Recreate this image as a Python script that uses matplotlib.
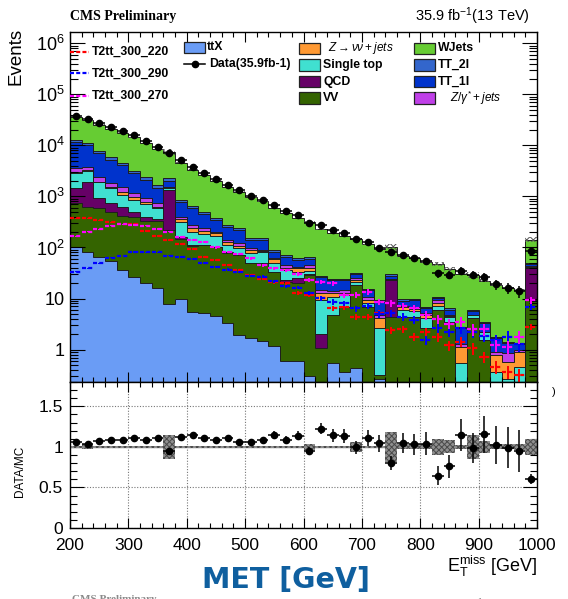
import numpy as np
import matplotlib
matplotlib.use('Agg')
import matplotlib.pyplot as plt
from matplotlib.patches import Rectangle
from matplotlib.lines import Line2D
from matplotlib.ticker import FixedLocator, MultipleLocator, FuncFormatter, LogLocator, NullFormatter

plt.rcParams['font.family'] = ['Liberation Sans', 'DejaVu Sans']
plt.rcParams['mathtext.fontset'] = 'custom'
plt.rcParams['mathtext.rm'] = 'Liberation Sans'
plt.rcParams['mathtext.it'] = 'Liberation Sans:italic'
plt.rcParams['mathtext.bf'] = 'Liberation Sans:bold'
plt.rcParams['hatch.linewidth'] = 0.7

# ---------------- data (MET bins of 20 GeV, 200-1000, last bin incl. overflow) ----------------
met_edges = np.arange(200, 1001, 20)

data = [37800, 32600, 27200, 23000, 19200, 15800, 12100, 9220, 7130, 5130,
        3830, 2920, 2230, 1700, 1316, 1014, 866, 676, 516, 431,
        300, 278, 219, 189, 146, 129, 99, 80, 71, 63,
        54, 31, 29, 35, 29, 26, 19, 16, 14, 86]

ttx = [103, 82, 66, 55, 36, 26, 20, 16, 7.7, 9.6,
       5.5, 5.3, 4.5, 3.3, 1.9, 1.7, 1.5, 1.2, 0.6, 0.6,
       0.3, 0, 0.54, 0.37, 0.44, 0, 0.27, 0, 0, 0,
       0, 0, 0, 0, 0, 0, 0, 0, 0, 0]
vv = [637, 536, 516, 445, 376, 374, 309, 313, 211, 136,
      103, 106, 97, 75, 69, 48, 48, 32, 20.7, 19.2,
      28.5, 1.06, 4.2, 6.5, 18, 6.9, 0.05, 4.4, 4.4, 4.4,
      2.6, 5.95, 3.5, 0.05, 4.1, 1.54, 0.1, 0.1, 0.1, 9.35]
qcd = [695, 1312, 332, 230, 214, 100, 70, 31, 1109, 16,
       3, 2, 1.5, 4, 0.5, 0.3, 0.3, 0.2, 1.7, 5,
       1.2, 1.0, 0, 0, 0, 0, 0, 18.6, 0, 0,
       0, 0, 0, 0, 0, 0, 0, 0, 0, 29.7]
single_top = [1465, 1240, 966, 723, 434, 347, 298, 222, 125, 152,
              92, 67, 64, 29, 25, 27, 32, 16, 13, 8.2,
              4.5, 7.3, 6, 4.8, 2.4, 1.15, 2.3, 0.3, 1.55, 1.4,
              1.5, 1.15, 0.9, 0.5, 0.65, 0.7, 0.27, 0.17, 0.36, 1]
znunu = [130, 100, 50, 47, 170, 135, 87, 44, 47, 46,
         33, 29, 22, 18, 12, 12, 4, 9.5, 3, 6,
         4.5, 3.3, 2.2, 1.3, 1.9, 1.3, 1.5, 0.3, 0.75, 0.35,
         0.65, 0.95, 0.1, 0.56, 0, 0, 0.41, 0.31, 0.45, 2]
zgamma = [500, 530, 420, 345, 270, 163, 130, 104, 42, 39,
          38, 27, 14, 11, 12, 7, 3, 2.5, 6, 3,
          5.6, 2.1, 1.2, 1.7, 2.1, 1.45, 0.65, 0.5, 0.4, 0.55,
          0.35, 1.3, 0.25, 0.19, 0, 0, 0.13, 0.27, 0.07, 1.3]
tt_1l = [8170, 6290, 4590, 3285, 2540, 1675, 1171, 705, 478, 374,
         316, 214, 141, 111, 99, 44, 51, 21, 20, 14.7,
         15.4, 11.3, 8.8, 8.3, 5, 3.9, 3.9, 3.8, 1.95, 2.5,
         1.55, 0.75, 1.2, 1.32, 0.95, 1.06, 0.78, 0.5, 0.28, 3.4]
tt_2l = [1300, 1110, 860, 660, 510, 350, 270, 230, 230, 74,
         56, 43, 32, 23, 17, 11, 11, 7, 6, 4.3,
         4, 1.6, 1, 1.4, 2.2, 0.4, 0.7, 2.1, 0.55, 0.6,
         0.25, 0.4, 0.45, 0.15, 0.25, 0.12, 0.1, 0.08, 0.07, 2.2]
wjets = [22500, 20400, 17700, 15410, 13150, 11130, 8785, 6665, 5220, 3733,
         2694, 2147, 1674, 1266, 1004, 804, 646, 500, 404, 317,
         252, 199, 168, 142, 115, 101, 85.6, 70, 58.4, 51.2,
         45.1, 37.5, 31.6, 27.7, 23.35, 19.1, 16.7, 14.7, 13.4, 94]

mc_relunc = [0.01, 0.03, 0.01, 0.01, 0.01, 0.01, 0.01, 0.01, 0.145, 0.01,
             0.01, 0.01, 0.01, 0.01, 0.01, 0.01, 0.01, 0.01, 0.01, 0.01,
             0.04, 0.01, 0.01, 0.01, 0.06, 0.015, 0.015, 0.185, 0.03, 0.03,
             0.03, 0.10, 0.08, 0.02, 0.15, 0.07, 0.03, 0.03, 0.04, 0.10]

t2tt_300_220 = [371, 371, 344, 314, 287, 287, 209, 169, 140, 117,
                92, 66, 57, 45, 36, 29, 24, 21, 20, 13,
                11.7, 10.1, 6.4, 6.7, 4.4, 4.4, 5.1, 2.4, 2.5, 1.8,
                2.2, 1.8, 1.23, 1.43, 1.06, 0.73, 0.46, 0.37, 0.32, 2.8]
t2tt_300_290 = [33.5, 39, 49, 63, 68, 82, 80, 80, 69, 66,
                59, 50, 42, 37, 33.5, 27.5, 26.7, 22, 17.6, 16.4,
                13, 10.1, 8.65, 8.05, 6.4, 7.1, 5.0, 5.1, 4.4, 3.8,
                1.54, 2.6, 2.24, 2.6, 2.24, 1.85, 1.54, 1.8, 1.29, 6.9]
t2tt_300_270 = [167, 203, 229, 266, 287, 274, 266, 229, 203, 162,
                140, 126, 100, 82, 74, 61, 45, 39, 36, 30,
                23, 21, 20, 11.7, 11.7, 13.6, 8.6, 8.0, 7.1, 6.4,
                4.75, 3.9, 3.2, 3.5, 2.5, 2.5, 1.23, 1.14, 1.8, 9.35]
sig_relerr = [0.02, 0.02, 0.02, 0.02, 0.02, 0.03, 0.03, 0.03, 0.03, 0.04,
              0.04, 0.04, 0.05, 0.05, 0.05, 0.06, 0.06, 0.07, 0.07, 0.08,
              0.10, 0.10, 0.12, 0.12, 0.13, 0.14, 0.15, 0.16, 0.17, 0.18,
              0.20, 0.20, 0.22, 0.22, 0.25, 0.25, 0.28, 0.28, 0.30, 0.15]

bkg_names = ['ttX', 'VV', 'QCD', 'Single top', 'Znunu', 'Zgamma', 'TT_1l', 'TT_2l', 'WJets']
bkg_values = [ttx, vv, qcd, single_top, znunu, zgamma, tt_1l, tt_2l, wjets]
bkg_colors = ['#6a9cf5', '#346400', '#660066', '#40e0d0', '#ff9933',
              '#c040e8', '#0033cc', '#3366cc', '#66cc33']

# ---------------- figure ----------------
W, H = 568, 599
fig = plt.figure(figsize=(W / 100, H / 100), dpi=100)
L, R = 70, 537
T_main, B_main, B_rat = 32, 382, 528
ax = fig.add_axes([L / W, 1 - B_main / H, (R - L) / W, (B_main - T_main) / H])
rax = fig.add_axes([L / W, 1 - B_rat / H, (R - L) / W, (B_rat - B_main) / H])

edges = met_edges
centers = 0.5 * (edges[:-1] + edges[1:])
half = 0.5 * np.diff(edges)
data_a = np.asarray(data, float)

# stacked backgrounds
bottom = np.full(len(centers), 1e-3)
tops = []
for vals, col in zip(bkg_values, bkg_colors):
    top = bottom + np.asarray(vals, float)
    ax.stairs(top, edges, baseline=bottom, fill=True, facecolor=col, edgecolor='none', lw=0, zorder=1)
    tops.append(top)
    bottom = top
for top in tops:
    ax.stairs(top, edges, baseline=None, color='#1e1e1e', lw=0.7, zorder=1.5)
total = bottom
unc = np.asarray(mc_relunc)
ax.stairs(total * (1 + unc), edges, baseline=total * (1 - unc), fill=True,
          facecolor='none', edgecolor='#555555', hatch='xxxxx', lw=0, zorder=2)

# signals
for vals, col in [(t2tt_300_220, '#ff0000'), (t2tt_300_290, '#0000ff'), (t2tt_300_270, '#ff00ff')]:
    v = np.asarray(vals, float)
    rel = np.asarray(sig_relerr)
    ax.hlines(v, edges[:-1], edges[1:], colors=col, linestyles=(0, (1.8, 1.0)), lw=1.6, zorder=3)
    ax.vlines(centers, v * (1 - rel), v * (1 + rel), colors=col, lw=1.4, zorder=3)

# data
ax.errorbar(centers, data_a, xerr=half, yerr=np.sqrt(data_a), fmt='o', ms=4.5,
            color='black', lw=1.1, capsize=0, zorder=5)

ax.set_yscale('log')
ax.set_xlim(200, 1000)
ax.set_ylim(0.232, 1.66e6)
ax.yaxis.set_major_locator(FixedLocator([1, 10, 1e2, 1e3, 1e4, 1e5, 1e6]))
ax.yaxis.set_minor_locator(LogLocator(base=10, subs=np.arange(2, 10), numticks=100))
ax.yaxis.set_minor_formatter(NullFormatter())


def yfmt(v, p):
    if abs(v - 1) < 1e-9:
        return '1'
    if abs(v - 10) < 1e-9:
        return '10'
    return r'$\mathregular{10^{%d}}$' % int(round(np.log10(v)))


ax.yaxis.set_major_formatter(FuncFormatter(yfmt))
ax.xaxis.set_major_locator(MultipleLocator(100))
ax.xaxis.set_minor_locator(MultipleLocator(20))
ax.tick_params(which='both', direction='in', top=True, right=True, labelbottom=False, width=0.8)
ax.tick_params(axis='y', which='major', length=11, labelsize=13, pad=4)
ax.tick_params(axis='y', which='minor', length=6)
ax.tick_params(axis='x', which='major', length=7)
ax.tick_params(axis='x', which='minor', length=3.5)
for s in ax.spines.values():
    s.set_linewidth(1.0)

# ratio
mc = total
ratio = data_a / mc
ratio_err = np.sqrt(data_a) / mc
rax.stairs(1 + unc, edges, baseline=1 - unc, fill=True, facecolor='#8f8f8f',
           edgecolor='#4a4a4a', hatch='xxxxxx', lw=0, zorder=2)
rax.axhline(1, color='#888888', lw=1.0, zorder=1.5)
rax.errorbar(centers, ratio, xerr=half, yerr=ratio_err, fmt='o', ms=4.5,
             color='black', lw=1.1, capsize=0, zorder=5)
rax.set_xlim(200, 1000)
rax.set_ylim(0, 1.8)
rax.yaxis.set_major_locator(FixedLocator([0, 0.5, 1, 1.5]))
rax.yaxis.set_major_formatter(FuncFormatter(lambda v, p: '%g' % v))
rax.yaxis.set_minor_locator(MultipleLocator(0.1))
rax.xaxis.set_major_locator(MultipleLocator(100))
rax.xaxis.set_minor_locator(MultipleLocator(20))
rax.grid(True, which='major', linestyle=(0, (1, 1.5)), color='#777777', lw=0.8, zorder=0)
rax.tick_params(which='both', direction='in', top=True, right=True, width=0.8)
rax.tick_params(axis='y', which='major', length=10, labelsize=12.5, pad=5)
rax.tick_params(axis='y', which='minor', length=5)
rax.tick_params(axis='x', which='major', length=7, labelsize=12.5, pad=7)
rax.tick_params(axis='x', which='minor', length=3.5)
for s in rax.spines.values():
    s.set_linewidth(1.0)
rax.set_axisbelow(True)

# ---------------- overlay for texts & legend (pixel coordinates) ----------------
ov = fig.add_axes([0, 0, 1, 1], zorder=10)
ov.set_xlim(0, W)
ov.set_ylim(H, 0)
ov.axis('off')
ov.patch.set_alpha(0)

ov.text(70, 16.5, 'CMS Preliminary', family='Liberation Serif', weight='bold', fontsize=10,
        ha='left', va='center')
ov.text(530, 16.5, r'35.9 fb$^{-1}$(13 TeV)', fontsize=10.5, ha='right', va='center')
ov.text(16, 56, 'Events', rotation=90, fontsize=13.5, ha='center', va='center')
ov.text(20, 471, 'DATA/MC', rotation=90, fontsize=8.5, ha='center', va='center')
ov.text(537, 572, r'$\mathregular{E_{T}^{miss}}$ [GeV]', fontsize=13, ha='right', va='baseline')
ov.text(286, 588, 'MET [GeV]', family='DejaVu Sans', weight='bold', fontsize=20.5,
        color='#0f5f9f', ha='center', va='baseline')
ov.text(72, 595.5, 'CMS Preliminary', family='Liberation Serif', weight='bold', fontsize=8,
        color='#8a8a8a', ha='left', va='top')
ov.text(530, 595.5, r'35.9 fb$^{-1}$(13 TeV)', fontsize=8.5, color='#8a8a8a', ha='right', va='top')
ov.text(554, 392, ')', fontsize=8, ha='center', va='center')

leg_fs = 8.8
# column 1 : signals
for y, col, lab in [(51.7, '#ff0000', 'T2tt_300_220'), (73.3, '#0000ff', 'T2tt_300_290'),
                    (95.7, '#ff00ff', 'T2tt_300_270')]:
    ov.add_line(Line2D([70, 89], [y, y], color=col, lw=1.6, linestyle=(0, (1.8, 1.0))))
    ov.text(91.7, y, lab, fontsize=leg_fs, weight='bold', ha='left', va='center')


def box(x, y, col):
    ov.add_patch(Rectangle((x, y - 5.8), 20.7, 11.6, facecolor=col, edgecolor='#222222', lw=0.9))


# column 2
box(184, 47.5, bkg_colors[0])
ov.text(207, 47.5, 'ttX', fontsize=leg_fs, weight='bold', ha='left', va='center')
ov.add_line(Line2D([184, 205], [63.5, 63.5], color='black', lw=1.1))
ov.plot([194.5], [63.5], 'o', color='black', ms=4.5)
ov.text(209, 63.5, 'Data(35.9fb-1)', fontsize=leg_fs, weight='bold', ha='left', va='center')

rows = [48.3, 65, 81.5, 98]
# column 3
box(299.3, rows[0], bkg_colors[4])
ov.text(361, rows[0], r'$Z \rightarrow \nu\nu + jets$', fontsize=8.5, ha='center', va='center')
box(299.3, rows[1], bkg_colors[3])
ov.text(323.3, rows[1], 'Single top', fontsize=leg_fs, weight='bold', ha='left', va='center')
box(299.3, rows[2], bkg_colors[2])
ov.text(323.3, rows[2], 'QCD', fontsize=leg_fs, weight='bold', ha='left', va='center')
box(299.3, rows[3], bkg_colors[1])
ov.text(323.3, rows[3], 'VV', fontsize=leg_fs, weight='bold', ha='left', va='center')
# column 4
box(414.3, rows[0], bkg_colors[8])
ov.text(438.3, rows[0], 'WJets', fontsize=leg_fs, weight='bold', ha='left', va='center')
box(414.3, rows[1], bkg_colors[7])
ov.text(438.3, rows[1], 'TT_2l', fontsize=leg_fs, weight='bold', ha='left', va='center')
box(414.3, rows[2], bkg_colors[6])
ov.text(438.3, rows[2], 'TT_1l', fontsize=leg_fs, weight='bold', ha='left', va='center')
box(414.3, rows[3], bkg_colors[5])
ov.text(476, rows[3], r'$Z/\gamma^{*} + jets$', fontsize=8.5, ha='center', va='center')

fig.savefig('out.png', dpi=100)
